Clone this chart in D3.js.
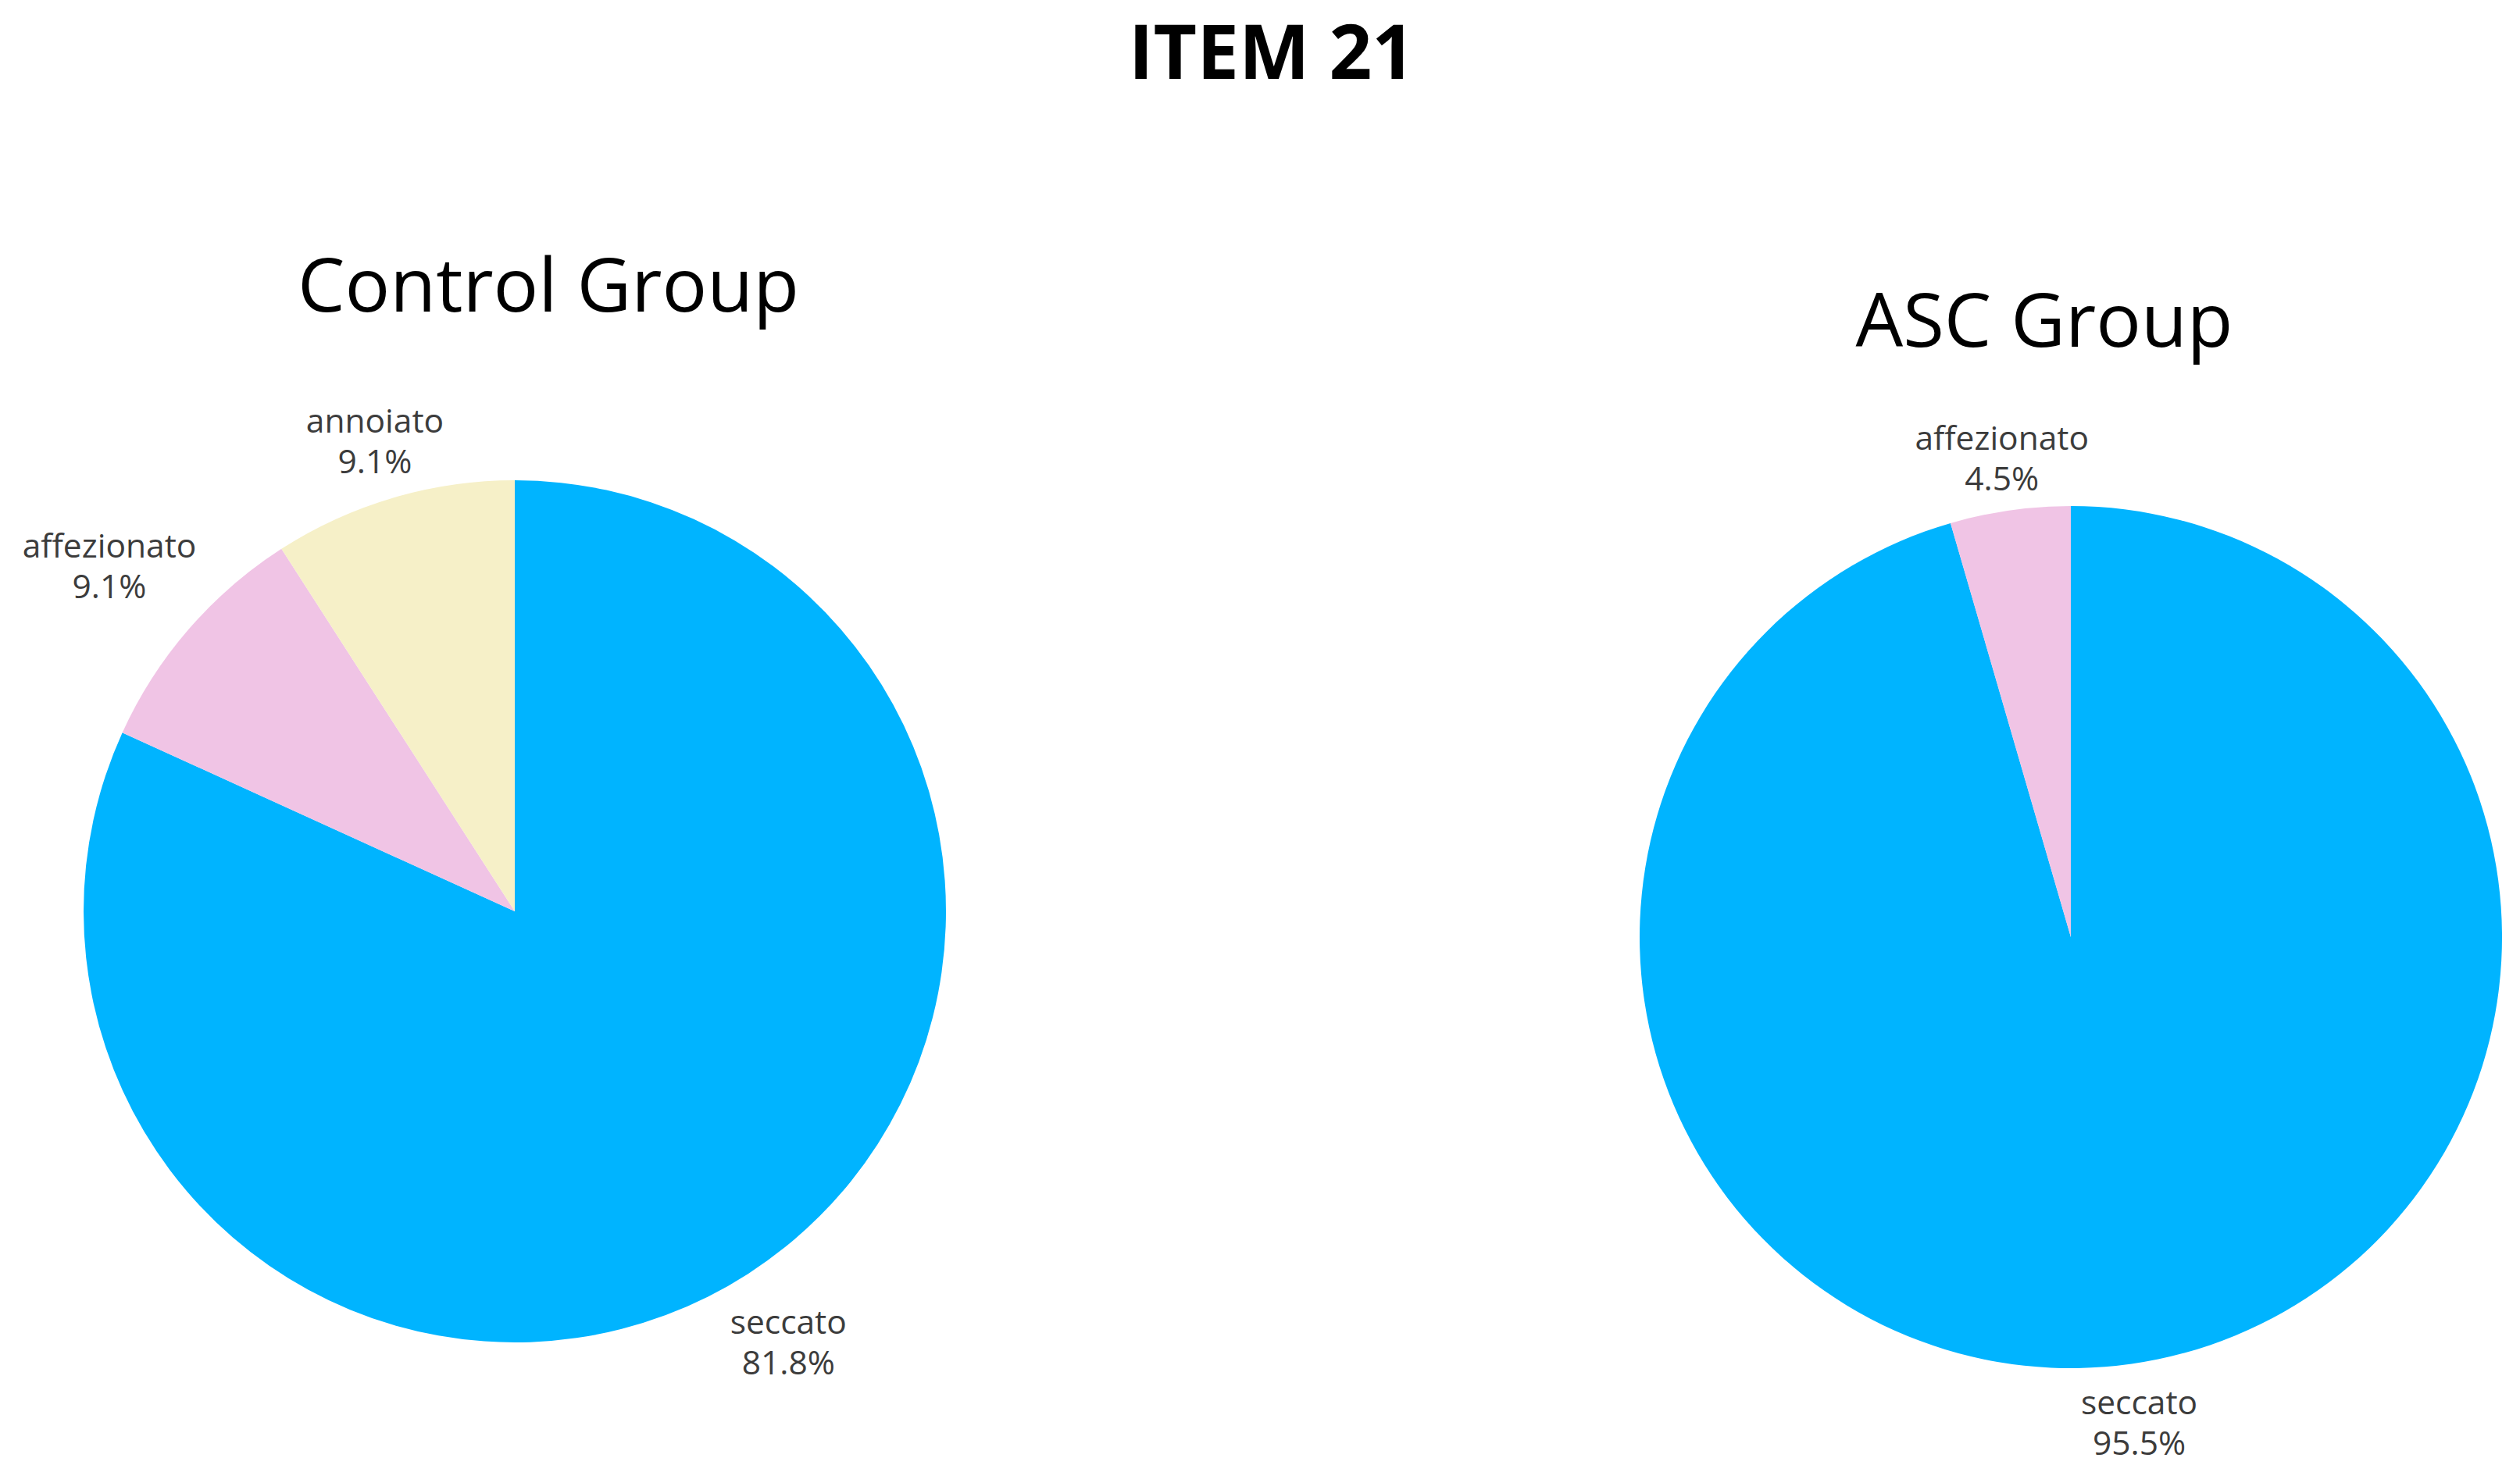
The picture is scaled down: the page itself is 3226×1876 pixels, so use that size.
<!DOCTYPE html>
<html>
<head>
<meta charset="utf-8">
<script src="https://cdn.jsdelivr.net/npm/d3@7"></script>
<style>
  html, body { margin: 0; padding: 0; background: #ffffff; }
  svg { display: block; }
</style>
</head>
<body>
<svg id="chart" width="3226" height="1876"></svg>
<script>
// ---- data ----
const chartTitle = "ITEM 21";
const groups = ["Control Group", "ASC Group"];
const controlCategories = ["seccato", "affezionato", "annoiato"];
const controlValues = [81.8, 9.1, 9.1];
const ascCategories = ["seccato", "affezionato"];
const ascValues = [95.5, 4.5];
const categoryColors = { seccato: "#00b4ff", affezionato: "#f0c4e5", annoiato: "#f6f0c8" };

// ---- layout ----
const svg = d3.select("#chart");
const R = 552;
const panels = [
  { name: groups[0], cats: controlCategories, vals: controlValues, cx: 659, cy: 1167, titleX: 702, titleY: 399 },
  { name: groups[1], cats: ascCategories, vals: ascValues, cx: 2651, cy: 1200, titleX: 2617, titleY: 444 }
];

svg.append("text")
  .attr("x", 1628).attr("y", 101)
  .attr("text-anchor", "middle")
  .attr("font-family", "'Open Sans', sans-serif")
  .attr("font-weight", 700)
  .attr("font-size", 96)
  .attr("fill", "#000")
  .text(chartTitle);

const pie = d3.pie().sort(null).value(d => d.value).startAngle(0).endAngle(2 * Math.PI);
const arc = d3.arc().innerRadius(0).outerRadius(R);
const color = d3.scaleOrdinal().domain(Object.keys(categoryColors)).range(Object.values(categoryColors));

panels.forEach(p => {
  const data = p.cats.map((c, i) => ({ cat: c, value: p.vals[i] }));
  const g = svg.append("g").attr("transform", `translate(${p.cx},${p.cy})`);

  svg.append("text")
    .attr("x", p.titleX).attr("y", p.titleY)
    .attr("text-anchor", "middle")
    .attr("font-family", "'Open Sans', sans-serif")
    .attr("font-size", 96)
    .attr("fill", "#000")
    .text(p.name);

  const arcs = pie(data);
  g.selectAll("path.slice").data(arcs).enter().append("path")
    .attr("class", "slice")
    .attr("d", arc)
    .attr("fill", d => color(d.data.cat));

  const fs = 42.5, lh = 52, pad = 33, hh = 26, shiftY = 7;
  arcs.forEach(a => {
    const mid = (a.startAngle + a.endAngle) / 2;
    const dx = Math.sin(mid), dy = -Math.cos(mid);
    const t = g.append("text")
      .attr("text-anchor", "middle")
      .attr("font-family", "'Open Sans', sans-serif")
      .attr("font-size", fs)
      .attr("fill", "#3c3c3c");
    t.append("tspan").attr("x", 0).attr("dy", 0).text(a.data.cat);
    t.append("tspan").attr("x", 0).attr("dy", lh).text(a.data.value.toFixed(1) + "%");
    const bb = t.node().getBBox();
    const proj = Math.abs(dx) * bb.width / 2 + Math.abs(dy) * hh;
    const rr = R + pad + proj;
    const bx = dx * rr, by = dy * rr;
    const ox = bx - (bb.x + bb.width / 2);
    const oy = by - (lh / 2 - fs * 0.36) + shiftY;
    t.attr("transform", `translate(${ox},${oy})`);
  });
});
</script>
</body>
</html>
